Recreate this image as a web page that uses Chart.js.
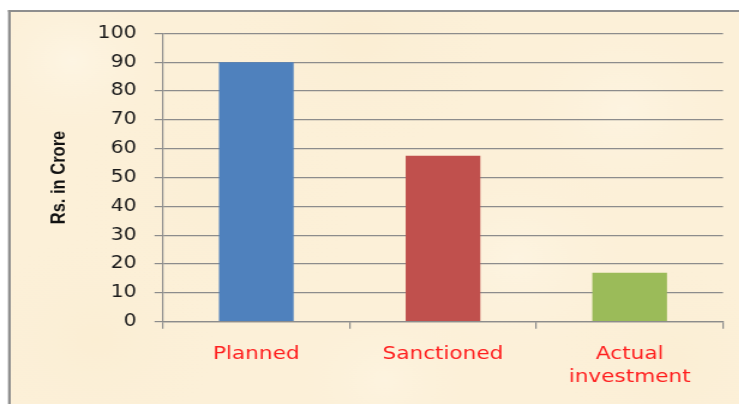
<!DOCTYPE html>
<html>
<head>
<meta charset="utf-8">
<title>Investment</title>
<script src="https://cdn.jsdelivr.net/npm/chart.js@4.4.1/dist/chart.umd.min.js"></script>
<style>
  html, body { margin: 0; padding: 0; background: #fff; overflow: hidden; }
  /* the whole chart is drawn a bit narrow and then widened */
  #wrap { position: absolute; left: 0; top: 0; width: 616px; height: 404px;
          transform: scaleX(1.2); transform-origin: 0 0; }
</style>
</head>
<body>
<div id="wrap"><canvas id="chart"></canvas></div>
<script>
/* values in Rs. crore */
const categories = ['Planned', 'Sanctioned', ['Actual', 'investment']];
const amounts = [90, 57.5, 17];
const barColours = ['#4F81BD', '#C0504D', '#9BBB59'];
const yMin = 0;
const yMax = 100;
const yStep = 10;
const yTitle = 'Rs. in Crore';

/* soft patches for the paper look: x, y, radius, colour */
const patches = [
  [60, 60, 90, 'rgba(255,250,238,0.5)'],
  [300, 40, 120, 'rgba(248,232,198,0.25)'],
  [520, 110, 110, 'rgba(255,249,235,0.45)'],
  [180, 200, 130, 'rgba(249,235,204,0.2)'],
  [430, 260, 120, 'rgba(255,250,238,0.4)'],
  [80, 340, 110, 'rgba(248,232,198,0.25)'],
  [560, 360, 100, 'rgba(248,233,200,0.25)'],
  [320, 380, 90, 'rgba(255,248,232,0.45)']
];

const parchment = {
  id: 'parchment',
  beforeDraw(chart) {
    const ctx = chart.ctx;
    const w = chart.width, h = chart.height;
    ctx.save();
    ctx.fillStyle = '#fff';
    ctx.fillRect(0, 0, w, h);
    ctx.fillStyle = '#FCF0D8';
    ctx.fillRect(7, 10, w, h);
    ctx.beginPath();
    ctx.rect(7, 10, w, h);
    ctx.clip();
    patches.forEach(([x, y, r, c]) => {
      const g = ctx.createRadialGradient(x, y, 0, x, y, r);
      g.addColorStop(0, c);
      g.addColorStop(1, 'rgba(252,240,216,0)');
      ctx.fillStyle = g;
      ctx.fillRect(x - r, y - r, r * 2, r * 2);
    });
    ctx.restore();
    // frame on the left and top
    ctx.save();
    ctx.fillStyle = '#8e8e8e';
    ctx.fillRect(6.7, 10, 2.3, h);
    ctx.fillRect(6.7, 10, w, 2);
    ctx.restore();
  }
};

new Chart(document.getElementById('chart'), {
  type: 'bar',
  data: {
    labels: categories,
    datasets: [{
      data: amounts,
      backgroundColor: barColours,
      borderWidth: 0,
      barPercentage: 0.4,
      categoryPercentage: 1
    }]
  },
  options: {
    responsive: true,
    maintainAspectRatio: false,
    animation: false,
    events: [],
    layout: { padding: { left: 40, top: 33.3, right: 13.5, bottom: 0 } },
    plugins: {
      legend: { display: false },
      tooltip: { enabled: false }
    },
    scales: {
      x: {
        grid: {
          drawOnChartArea: false,
          drawTicks: true,
          tickLength: 7,
          color: '#8c8c8c',
          lineWidth: 1.2
        },
        border: { color: '#8c8c8c', width: 1.2 },
        ticks: {
          padding: 14,
          color: '#FF1E1E',
          font: { family: "'DejaVu Sans', Verdana, sans-serif", size: 18, lineHeight: 1.3 },
          maxRotation: 0,
          autoSkip: false
        },
        afterFit(scale) { scale.height = 82.3; }
      },
      y: {
        min: yMin,
        max: yMax,
        grid: {
          color: '#8c8c8c',
          lineWidth: 1.2,
          tickLength: 7
        },
        border: { color: '#8c8c8c', width: 1.2 },
        ticks: {
          stepSize: yStep,
          padding: 15,
          color: '#1c1c1c',
          font: { family: "'DejaVu Sans', Verdana, sans-serif", size: 17 }
        },
        title: {
          display: true,
          text: yTitle,
          padding: 0,
          color: '#111',
          font: { family: "'Liberation Sans Narrow', 'Liberation Sans', Arial, sans-serif", size: 16.5, weight: 'bold' }
        },
        afterFit(scale) { scale.width = 95.8; }
      }
    }
  },
  plugins: [parchment]
});
</script>
</body>
</html>
